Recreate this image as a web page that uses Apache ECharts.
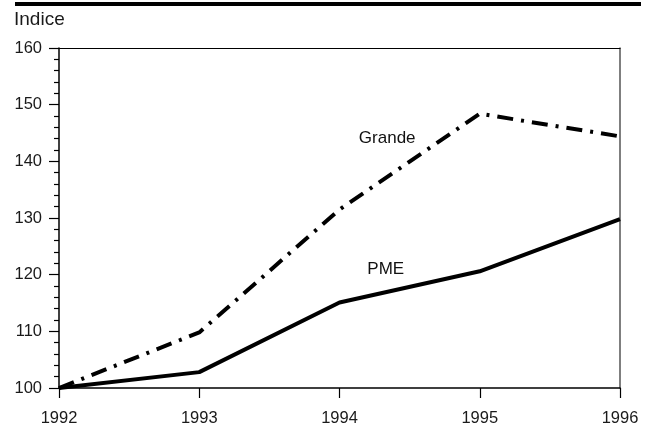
<!DOCTYPE html>
<html><head><meta charset="utf-8">
<script src="https://cdn.jsdelivr.net/npm/echarts@6/dist/echarts.min.js"></script>
<style>html,body{margin:0;padding:0;background:#fff}#c{width:651px;height:427px}</style>
</head><body><div id="c"></div>
<script>
var years = [1992, 1993, 1994, 1995, 1996];
var grande = [100, 109.8, 131.5, 148.4, 144.4];
var pme = [100, 102.8, 115.1, 120.6, 129.8];
var yTicks = [100, 110, 120, 130, 140, 150, 160];
var seriesLabels = [
  {name: 'Grande', x: 1994.34, y: 144.0},
  {name: 'PME', x: 1994.33, y: 120.9}
];

var FONT = '"Liberation Sans", Arial, sans-serif';
var chart = echarts.init(document.getElementById('c'), null, {renderer: 'canvas'});
function pairs(xs, ys){ return xs.map(function(x,i){return [x, ys[i]];}); }
chart.setOption({
  animation: false,
  backgroundColor: '#fff',
  grid: {left: 59, right: 31, top: 48, bottom: 38, containLabel: false},
  xAxis: [{
    type: 'value', min: years[0], max: years[years.length-1], interval: 1,
    axisLine: {show: true, onZero: false, lineStyle: {color: '#000', width: 1.5}},
    axisTick: {show: true, length: 10, lineStyle: {color: '#000', width: 1.2}},
    axisLabel: {margin: 22, color: '#1a1a1a', fontSize: 16.5, fontFamily: FONT, formatter: function(v){return String(v);}},
    splitLine: {show: false}
  },{
    type: 'value', position: 'top', min: years[0], max: years[years.length-1],
    axisLine: {show: true, onZero: false, lineStyle: {color: '#000', width: 1.2}},
    axisTick: {show: false}, axisLabel: {show: false}, splitLine: {show: false}
  }],
  yAxis: [{
    type: 'value', min: yTicks[0], max: yTicks[yTicks.length-1], interval: 10,
    axisLine: {show: true, onZero: false, lineStyle: {color: '#000', width: 1.5}},
    axisTick: {show: true, length: 10, lineStyle: {color: '#000', width: 1.2}},
    minorTick: {show: true, splitNumber: 5, length: 5, lineStyle: {color: '#000', width: 1.2}},
    axisLabel: {margin: 17, color: '#1a1a1a', fontSize: 16.5, fontFamily: FONT},
    splitLine: {show: false}
  },{
    type: 'value', position: 'right', min: yTicks[0], max: yTicks[yTicks.length-1],
    axisLine: {show: true, onZero: false, lineStyle: {color: '#555', width: 1.5}},
    axisTick: {show: false}, axisLabel: {show: false}, splitLine: {show: false}
  }],
  graphic: [
    {type: 'rect', shape: {x: 15, y: 2, width: 626, height: 4}, style: {fill: '#000'}},
    {type: 'text', left: 14, top: 10, style: {text: 'Indice', fontSize: 19, fontFamily: FONT, fill: '#1a1a1a'}}
  ],
  series: [{
    type: 'line', name: 'Grande', data: pairs(years, grande), symbol: 'none',
    lineStyle: {color: '#000', width: 4, type: [16, 8, 3, 8], cap: 'butt'}
  },{
    type: 'line', name: 'PME', data: pairs(years, pme), symbol: 'none',
    lineStyle: {color: '#000', width: 4, type: 'solid'}
  },{
    type: 'scatter', name: 'labels', symbolSize: 1,
    itemStyle: {color: 'rgba(0,0,0,0)'},
    data: seriesLabels.map(function(o){ return {value: [o.x, o.y], name: o.name}; }),
    label: {show: true, position: 'inside', formatter: '{b}', color: '#111', opacity: 1,
            textBorderWidth: 0, textBorderColor: 'transparent', fontSize: 17, fontFamily: FONT}
  }]
});
</script></body></html>
